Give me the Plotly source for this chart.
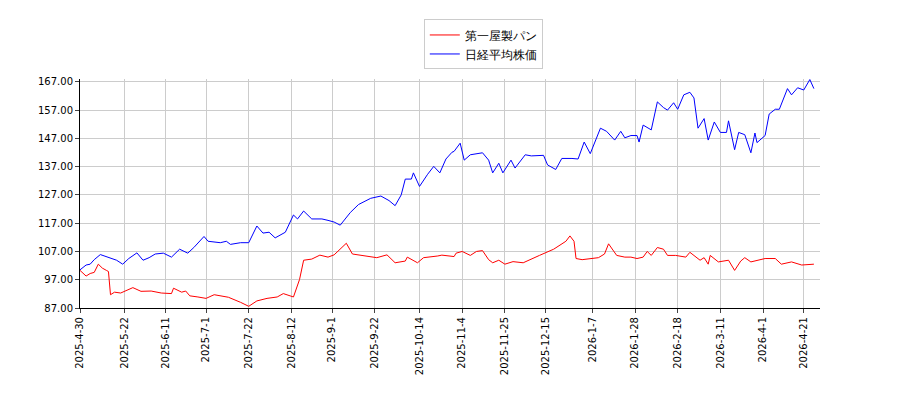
import pandas as pd
import plotly.graph_objects as go

start = pd.Timestamp("2025-04-30")

blue_days = [0,3,5,7,10,14,18,21,24,28,31,34,37,41,45,49,53,56,61,63,69,72,74,79,83,87,90,93,96,101,105,107,110,114,119,122,125,128,133,137,140,143,148,152,155,158,160,163,164,167,171,174,177,180,183,
             184,187,189,192,195,198,201,203,206,208,212,214,219,222,228,230,234,237,242,245,248,251,256,259,263,266,268,271,274,275,277,281,284,287,289,292,294,297,300,302,304,307,309,312,315,318,319,322,324,327,330,332,333,337,339,342,344,346,348,350,353,356,359,361]
blue_vals = [100.5,102.2,102.5,104.1,105.9,104.8,103.9,102.5,104.5,106.5,103.9,104.8,106.1,106.4,105,107.8,106.4,108.4,112.3,110.6,110.1,110.6,109.5,110.1,110.1,116,113.5,113.8,111.8,113.8,119.9,118.5,121.3,118.5,118.5,118,117.4,116.3,120.8,123.6,124.7,125.8,126.6,125,123.2,127,132.6,132.6,134.8,130,134.3,137.1,134.8,139.7,142.1,
             142.4,145.3,139.3,141.2,141.6,141.9,139.3,134.8,138.2,134.8,139.3,136.5,141.2,140.8,141,137.6,136,139.9,139.9,139.7,145.7,141.6,150.6,149.5,146.4,149.5,147.2,148,148,145.7,151.7,150,159.9,157.9,157,159.6,157.3,162.4,163.3,161.3,150.6,154,146.4,152.8,149.1,149.1,153.2,143,149.1,148.3,141.9,148.9,145.5,148,155.6,157.3,157.3,160.7,164.6,162.4,164.9,164.1,167.8,164.6]

red_days = [0,3,5,7,9,11,13,14,15,17,20,26,30,35,40,45,46,50,52,54,58,62,66,73,79,83,87,92,97,100,105,108,110,114,118,122,125,128,131,134,138,143,146,151,155,160,161,166,169,176,178,184,
            185,188,192,195,198,201,203,206,209,213,218,226,230,233,239,241,243,244,247,251,255,258,260,264,268,271,274,277,279,281,284,287,289,293,298,300,305,307,309,310,314,319,322,325,327,330,332,337,342,345,350,355,361]
red_vals = [100.3,98.3,99.2,99.6,102.5,101.1,100.3,99.9,91.7,92.6,92.3,94.2,92.9,93,92.3,92.1,94,92.6,93,91.3,90.9,90.4,91.7,90.8,89,87.6,89.5,90.4,90.9,92.1,90.9,97.1,103.9,104.3,105.7,105,105.8,107.8,109.9,106.1,105.6,105,104.8,105.8,103,103.6,105,103,104.8,105.4,105.7,105.2,
            106.4,107,105.6,107,107.3,104.1,103,103.9,102.5,103.4,103,105.6,106.7,107.8,110.6,112.5,110.6,104.5,104.1,104.5,104.8,106.1,109.7,105.6,105,105,104.5,105,107,105.6,108.4,107.8,105.6,105.6,105,106.7,103.9,104.8,102.5,105.6,103.3,103.9,100.3,103.6,104.8,103.3,103.6,104.5,104.5,102.5,103.3,102.2,102.5]

tick_labels = ["2025-4-30","2025-5-22","2025-6-11","2025-7-1","2025-7-22","2025-8-12","2025-9-1","2025-9-22","2025-10-14","2025-11-4","2025-11-25","2025-12-15","2026-1-7","2026-1-28","2026-2-18","2026-3-11","2026-4-1","2026-4-21"]
y_ticks = [87,97,107,117,127,137,147,157,167]

to_dates = lambda ds: [start + pd.Timedelta(days=d) for d in ds]
tick_dates = [pd.Timestamp(t) for t in tick_labels]

fig = go.Figure()
fig.add_trace(go.Scatter(x=to_dates(red_days), y=red_vals, mode="lines", name="第一屋製パン", line=dict(color="#ff0000", width=1)))
fig.add_trace(go.Scatter(x=to_dates(blue_days), y=blue_vals, mode="lines", name="日経平均株価", line=dict(color="#0000ff", width=1)))

fig.update_layout(
    width=900, height=400, plot_bgcolor="white", paper_bgcolor="white",
    margin=dict(l=72, r=88, t=63, b=100),
    font=dict(family="DejaVu Sans", size=11, color="black"),
    showlegend=True,
    legend=dict(x=0.545, y=1.26, xanchor="center", yanchor="top", bordercolor="#cccccc", borderwidth=1,
                font=dict(size=12), tracegroupgap=0),
)
fig.update_xaxes(range=[start, start + pd.Timedelta(days=364)], tickvals=tick_dates, ticktext=tick_labels,
                 tickangle=-90, showgrid=True, gridcolor="#cccccc", showline=True, linecolor="black",
                 ticks="outside", ticklen=4, mirror=False, tickfont=dict(size=10))
fig.update_yaxes(range=[87, 168], tickvals=y_ticks, ticktext=[f"{v:.2f}" for v in y_ticks],
                 showgrid=True, gridcolor="#cccccc", showline=True, linecolor="black",
                 ticks="outside", ticklen=4, tickfont=dict(size=10))
fig.write_html("out.html")
